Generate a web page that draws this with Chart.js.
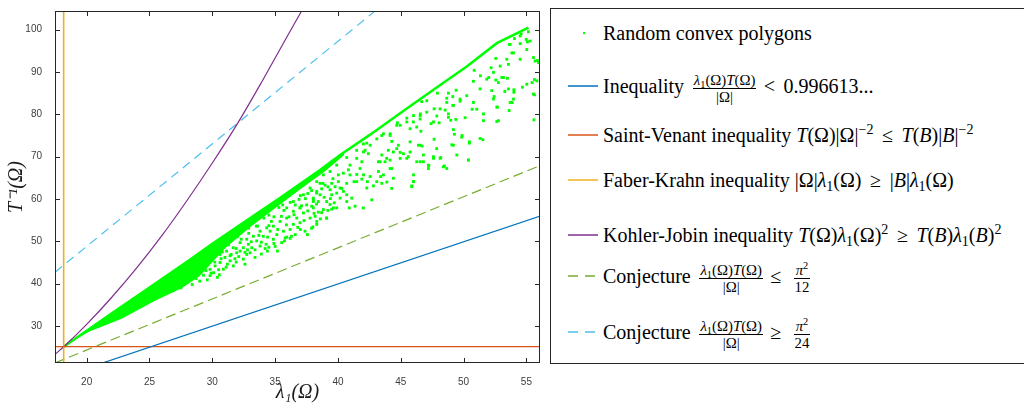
<!DOCTYPE html>
<html>
<head>
<meta charset="utf-8">
<script src="https://cdn.jsdelivr.net/npm/chart.js@4/dist/chart.umd.min.js"></script>
<style>
  body { margin: 0; background: #fff; }
  #wrap { position: relative; width: 1024px; height: 403px; overflow: hidden; }
  #legend { position: absolute; left: 550px; top: 8px; width: 480px; height: 354px;
            border: 1px solid #262626; border-right: none; background: #fff;
            font-family: 'Liberation Serif', serif; font-size: 20px; color: #000; }
  .item { position: absolute; left: 0; width: 100%; height: 0; }
  .key { position: absolute; left: 17px; top: -1px; width: 30px; height: 2px; opacity: 0.75; }
  .dot { position: absolute; left: 32px; top: -1px; width: 2px; height: 2px; background: #00ff00; }
  .lab { position: absolute; left: 52px; top: 0; transform: translateY(-50%); white-space: nowrap; line-height: 1; }
  .fr { display: inline-block; vertical-align: middle; text-align: center; font-size: 0.74em;
        line-height: 1.1; margin: -30px 0.25em; }
  .fr > span { display: block; padding: 0 1px; }
  .fr > .n { border-bottom: 1px solid #000; }
  .rel { margin: 0 0.18em; }
  sub, sup { font-size: 0.7em; line-height: 0; }
  sub { vertical-align: -0.25em; }
  sup { vertical-align: 0.55em; }
</style>
</head>
<body>
<div id="wrap">
  <canvas id="chart" width="1024" height="403"></canvas>
  <div id="legend">
    <div class="item" style="top:24px"><span class="dot"></span><span class="lab">Random convex polygons</span></div>
    <div class="item" style="top:77px"><span class="key" style="background:#0072bd"></span><span class="lab">Inequality <span class="fr"><span class="n"><i>λ</i><sub>1</sub>(Ω)<i>T</i>(Ω)</span><span class="d">|Ω|</span></span><span class="rel">&lt;</span> 0.996613...</span></div>
    <div class="item" style="top:126px"><span class="key" style="background:#d95319"></span><span class="lab">Saint-Venant inequality <i>T</i>(Ω)|Ω|<sup>−2</sup> <span class="rel">≤</span> <i>T</i>(<i>B</i>)|<i>B</i>|<sup>−2</sup></span></div>
    <div class="item" style="top:171px"><span class="key" style="background:#edb120"></span><span class="lab">Faber-Krahn inequality |Ω|<i>λ</i><sub>1</sub>(Ω) <span class="rel">≥</span> |<i>B</i>|<i>λ</i><sub>1</sub>(Ω)</span></div>
    <div class="item" style="top:226px"><span class="key" style="background:#7e2f8e"></span><span class="lab">Kohler-Jobin inequality <i>T</i>(Ω)<i>λ</i><sub>1</sub>(Ω)<sup>2</sup> <span class="rel">≥</span> <i>T</i>(<i>B</i>)<i>λ</i><sub>1</sub>(<i>B</i>)<sup>2</sup></span></div>
    <div class="item" style="top:267px"><span class="key" style="background:linear-gradient(to right,#77ac30 0 10px,transparent 10px 17px,#77ac30 17px 27px,transparent 27px)"></span><span class="lab">Conjecture <span class="fr"><span class="n"><i>λ</i><sub>1</sub>(Ω)<i>T</i>(Ω)</span><span class="d">|Ω|</span></span><span class="rel">≤</span> <span class="fr"><span class="n"><i>π</i><sup>2</sup></span><span class="d">12</span></span></span></div>
    <div class="item" style="top:323px"><span class="key" style="background:linear-gradient(to right,#4dbeee 0 10px,transparent 10px 17px,#4dbeee 17px 27px,transparent 27px)"></span><span class="lab">Conjecture <span class="fr"><span class="n"><i>λ</i><sub>1</sub>(Ω)<i>T</i>(Ω)</span><span class="d">|Ω|</span></span><span class="rel">≥</span> <span class="fr"><span class="n"><i>π</i><sup>2</sup></span><span class="d">24</span></span></span></div>
  </div>
</div>
<script>
// axes
const xTicks = [20, 25, 30, 35, 40, 45, 50, 55];
const yTicks = [30, 40, 50, 60, 70, 80, 90, 100];

// bound lines
const ineqX = [17.48, 56.1];       const ineqY = [17.5, 56.0];
const venantX = [17.48, 56.1];     const venantY = [25.13, 25.13];
const faberX = [18.17, 18.17];     const faberY = [20, 106];
const kohlerX = [17.48, 18.17, 20, 22, 24, 26, 28, 30, 32, 34, 36, 37.2];
const kohlerY = [23.3, 25.1, 30.4, 36.8, 43.8, 51.4, 59.7, 68.5, 77.8, 88.0, 98.6, 104.9];
const conjLoX = [17.48, 56.1];     const conjLoY = [21.3, 67.9];
const conjHiX = [17.48, 43.2];     const conjHiY = [42.7, 105];

// upper edge of the polygon cloud
const edgeX = [18.17, 22, 25, 28.24, 30, 33.4, 35.4, 38.57, 40.17, 42.56, 45.2, 47.6, 50.25, 52.64, 55.16];
const edgeY = [25.13, 33.0, 39.1, 45.7, 49.4, 56.3, 60.3, 66.85, 70.4, 75.2, 80.8, 85.8, 91.3, 96.8, 100.5];
// saturated part of the cloud (upper / lower boundary)
const denseTopX = [18.17, 22, 25, 28.24, 30, 33.4, 35.4, 38.57, 40.5];
const denseTopY = [25.13, 33.0, 39.1, 45.7, 49.4, 56.3, 60.3, 66.85, 71.1];
const denseBotX = [18.17, 20.13, 22.79, 25.44, 27.56, 29.0, 31, 33, 35, 37, 39, 40.5];
const denseBotY = [25.13, 28.6, 31.7, 36.0, 38.9, 41.8, 48.3, 53.3, 57.8, 62.3, 66.6, 70.4];

// scattered polygons below the edge
const cloud = [
  [37.38,52.4],[37.57,51.6],[36.19,50.7],[35.92,51.0],[35.74,50.1],[35.52,49.7],[35.18,47.7],[34.38,47.7],
  [34.28,49.3],[33.8,48.9],[33.4,46.2],[32.74,46.9],[32.47,45.8],[32.21,47.7],[31.67,44.2],[31.41,45.4],
  [30.88,43.4],[30.56,42.1],[29.82,41.9],[38.18,55.9],[37.78,55.5],[38.31,54.7],[38.04,57.9],[37.25,56.7],
  [36.72,55.5],[36.45,54.0],[36.98,54.4],[36.19,52.8],[35.66,52.4],[35.13,51.6],[34.86,50.5],[34.6,52.4],
  [34.06,51.2],[33.53,50.1],[33.14,48.5],[32.87,49.3],[32.47,48.5],[31.94,47.3],[31.41,46.6],[31.01,46.2],
  [30.61,45.0],[30.22,44.2],[29.82,43.4],[38.44,59.4],[38.04,60.2],[37.51,58.6],[36.98,57.9],[36.45,57.1],
  [35.92,55.5],[35.39,54.7],[34.86,53.6],[34.33,53.2],[33.8,52.4],[33.27,51.2],[32.74,50.5],[32.21,49.7],
  [31.67,48.5],[31.14,47.7],[30.61,46.9],[30.08,46.2],
  [28.5,44.8],[28.8,43.9],[29.1,45.9],[29.4,44.3],[30.3,47.9],[30.9,48.6],[31.6,50.8],[32.0,51.1],
  [32.4,52.5],[32.9,53.1],[33.2,54.4],[33.6,53.6],[34.1,55.5],[34.5,56.2],[34.9,55.8],[35.3,58.0],
  [35.7,57.3],[36.2,59.2],[36.6,58.6],[37.0,60.8],[37.4,60.1],[37.9,62.0],[38.3,61.4],[38.8,63.7],
  [39.2,62.9],[39.6,64.8],
  [27.6,39.6],[28.0,40.4],[28.4,39.8],[28.7,41.2],[29.0,40.6],[29.3,42.0],[29.6,40.9],[28.9,42.7],
  [29.5,43.1],[30.1,42.6],[30.4,41.5],[31.1,43.9],[31.9,45.1],[32.6,44.6],[33.0,47.3],[33.9,47.0],
  [34.5,48.6],[35.0,48.8],[36.6,51.6],[37.0,52.8],[38.0,53.4],[38.7,56.8],[39.1,55.5],[39.5,57.6],
  [26.2,38.6],[26.6,39.3],[26.9,38.4],[27.2,40.1],[27.5,39.0],[27.8,41.3],[26.4,40.0],[27.0,41.0],
  [28.2,42.4],[28.6,43.0],[28.3,41.0],[29.2,43.6],[29.7,44.9],[29.9,42.5],[28.1,43.7],[29.5,46.1],
  [30.2,45.1],[30.5,43.3],[30.8,47.5],[31.2,44.6],[31.5,46.9],[31.8,45.9],[31.3,49.2],[30.7,45.9],
  [31.9,48.3],[32.1,46.4],[32.3,50.5],[32.6,47.4],[32.9,51.9],[33.1,49.9],[33.4,48.0],[33.7,51.4],
  [33.9,49.8],[32.8,48.0],[33.5,53.6],[34.2,48.3],[34.4,51.0],[34.7,54.7],[34.9,49.5],[35.2,52.8],
  [35.5,55.9],[35.8,50.8],[35.9,53.9],[34.5,53.7],[35.6,58.6],[36.1,55.8],[36.3,51.2],[36.5,56.3],
  [36.8,53.3],[37.1,58.4],[37.3,54.9],[37.6,57.2],[37.9,53.1],[36.9,59.9],[37.6,61.3],[38.1,56.6],
  [38.3,58.8],[38.6,55.3],[38.9,60.4],[39.2,57.3],[39.4,60.1],[39.7,59.1],[39.9,61.4],[39.5,63.7],
  [38.7,62.4],
  [46.54,79.7],[46.0,78.2],[45.74,76.6],[46.27,77.0],[45.48,79.1],[44.95,77.4],[44.73,78.0],[44.15,75.4],
  [43.49,75.0],[44.28,73.6],[44.81,72.7],[45.74,73.5],[46.4,72.7],[44.41,71.1],[44.95,71.0],[44.01,71.5],
  [45.74,71.1],[46.54,68.8],[47.2,68.0],[45.6,70.0],[43.49,70.4],[43.22,68.8],[43.75,68.8],[44.15,69.2],
  [44.28,67.2],[43.22,66.5],[43.4,65.3],[43.49,63.7],[43.89,64.0],[44.28,62.5],[46.0,64.1],[45.88,63.1],
  [42.02,73.0],[42.16,71.5],[42.42,70.7],[41.9,68.8],[41.76,67.2],[42.56,65.3],[42.34,64.1],[42.82,63.1],
  [41.9,64.7],[41.5,65.8],[40.83,66.9],[40.96,65.7],[41.28,64.1],[40.43,66.1],[40.03,65.7],[40.03,64.1],
  [40.7,63.7],[39.77,62.9],[40.3,62.5],[39.37,62.2],[38.97,63.3],[38.57,63.7],[38.31,61.8],[39.5,61.0],
  [40.43,61.8],[41.1,60.2],[40.7,59.4],[40.17,60.2],[41.36,58.3],[42.02,57.9],[40.9,57.9],[39.9,57.9],
  [39.37,58.7],[38.84,57.5],[38.44,56.9],[38.04,59.8],[37.91,58.3],[39.1,55.5],[38.31,54.0],[42.69,59.8],
  [55.16,99.5],[54.58,99.0],[54.98,97.7],[55.08,97.1],[54.05,97.9],[54.5,96.7],[53.65,96.5],[53.84,94.5],
  [55.56,93.4],[55.88,92.7],[53.57,91.8],[52.56,93.2],[52.19,91.0],[51.34,89.1],[50.84,90.4],[50.78,87.8],
  [52.0,88.7],[52.56,88.1],[53.04,88.7],[53.49,88.5],[55.64,88.2],[55.45,87.5],[54.68,86.4],[54.0,85.8],
  [54.0,85.2],[53.28,85.4],[52.43,84.2],[55.64,84.6],[53.86,82.8],[52.69,81.7],[50.68,81.2],[51.05,81.2],
  [53.62,80.9],[50.12,79.2],[52.64,78.3],[55.6,78.7],[49.19,76.4],[49.88,75.0],[49.27,75.3],[50.46,73.2],
  [51.53,74.0],[49.06,72.8],[50.38,69.2],[48.18,69.8],[47.6,70.0],[47.65,74.1],[46.7,72.5],[48.79,79.3],
  [48.98,78.6],[48.79,80.1],[49.38,78.8],[48.05,78.0],[47.41,77.8],[48.53,81.0],[47.87,79.6],[47.65,81.3],
  [46.56,80.1],[46.6,76.0],[46.8,68.8],[47.23,67.9],[48.47,67.8],[49.14,84.2],[48.79,85.0],[49.4,85.7],
  [48.66,83.8],[49.14,82.1],[49.72,83.1],[47.92,85.0],[47.07,83.2],[46.67,83.0],
  [46.01,64.1],[45.87,62.9],[47.2,67.2],[48.39,67.6],[48.13,69.6],[49.85,74.6],[50.39,69.2],[50.46,73.5],
  [51.31,74.3],[51.58,80.1],[52.64,81.7],[52.77,78.5],[53.7,82.8],[53.97,83.6],[55.03,87.1],[55.56,84.8],
  [55.83,87.9],[55.69,92.6],[55.96,92.2],[55.29,97.3],[54.5,98.5],[53.7,96.5],[53.17,88.7],[53.57,86.0],
  [52.77,87.5],[52.24,85.6],[52.38,83.6],[51.58,78.5],
  [43.35,68.8],[43.88,69.6],[44.15,67.2],[44.68,71.9],[44.95,69.6],[45.21,70.7],[45.48,69.6],[46.27,68.8],
  [46.54,72.7],[46.8,70.4],[47.6,69.6],[47.86,71.9],[48.66,67.2],[49.19,72.7],[49.46,70.4],[46.01,65.7],
  [43.62,65.7],[44.41,64.9],[43.09,64.1],[42.29,62.6],[42.03,65.7],[41.49,64.1],[40.7,61.0],[40.17,62.6],
  [41.49,71.5],[42.29,73.2],[43.09,74.2],[43.62,75.4],[44.15,75.0],[44.68,77.4],[45.48,78.2],[46.01,79.7],
  [46.54,78.9],[47.07,80.5],[47.6,78.2],[48.13,81.3],[48.66,82.8],[49.19,82.1],[49.72,83.6],[50.25,84.4],
  [50.78,82.8],[51.31,86.0],[51.84,88.3],[52.38,89.9],[52.91,91.4],[53.44,93.0],[53.97,94.5],[54.5,93.0],
  [55.03,95.3],[41.49,69.6],[42.03,71.1],[42.56,72.7],[40.7,69.8],[40.96,68.0],[39.9,68.0],[39.37,66.5],
  [38.84,65.7],[38.31,64.1],[38.57,61.0],[37.78,62.6],[37.25,61.0],[36.45,59.4],[35.92,57.9],[36.98,57.9],
  [38.04,59.4],[39.1,59.4],[39.64,57.9]
];

function pts(xs, ys) {
    return xs.map((x, i) => ({x: x, y: ys[i]}));
}

function lineSet(xs, ys, color, dash, width) {
    return {
        data: pts(xs, ys),
        showLine: true,
        borderColor: color,
        borderWidth: width || 1.2,
        borderDash: dash || [],
        pointRadius: 0,
        fill: false,
        order: 0
    };
}

// inward ticks and box like the original figure
const frame = {
    id: 'frame',
    afterDraw(chart) {
        const ctx = chart.ctx;
        const a = chart.chartArea;
        const sx = chart.scales.x, sy = chart.scales.y;
        ctx.save();
        ctx.strokeStyle = '#262626';
        ctx.lineWidth = 1;
        ctx.strokeRect(Math.round(a.left) + 0.5, Math.round(a.top) + 0.5,
                       Math.round(a.right - a.left) - 1, Math.round(a.bottom - a.top) - 1);
        ctx.beginPath();
        sx.ticks.forEach(t => {
            const p = Math.round(sx.getPixelForValue(t.value)) + 0.5;
            ctx.moveTo(p, a.bottom); ctx.lineTo(p, a.bottom - 5);
            ctx.moveTo(p, a.top); ctx.lineTo(p, a.top + 5);
        });
        sy.ticks.forEach(t => {
            const p = Math.round(sy.getPixelForValue(t.value)) + 0.5;
            ctx.moveTo(a.left, p); ctx.lineTo(a.left + 5, p);
            ctx.moveTo(a.right, p); ctx.lineTo(a.right - 5, p);
        });
        ctx.stroke();
        ctx.restore();
    }
};

const tickFont = {family: 'Liberation Sans', size: 10};
const titleFont = {family: 'Liberation Serif', size: 20, style: 'italic', lineHeight: 1};

new Chart(document.getElementById('chart'), {
    type: 'scatter',
    data: {
        datasets: [
            lineSet(ineqX, ineqY, '#0072bd'),
            lineSet(venantX, venantY, '#d95319'),
            lineSet(faberX, faberY, '#edb120', null, 1.6),
            Object.assign(lineSet(kohlerX, kohlerY, '#7e2f8e'), {cubicInterpolationMode: 'monotone'}),
            lineSet(conjLoX, conjLoY, '#77ac30', [10, 5]),
            lineSet(conjHiX, conjHiY, '#4dbeee', [9, 6]),
            {
                data: pts(edgeX, edgeY), showLine: true, borderColor: '#00ff00',
                borderWidth: 2.5, pointRadius: 0, fill: false, order: 8
            },
            {
                data: pts(denseTopX, denseTopY), showLine: true, borderWidth: 0,
                borderColor: '#00ff00', backgroundColor: '#00ff00', pointRadius: 0,
                fill: '+1', order: 9
            },
            {
                data: pts(denseBotX, denseBotY), showLine: true, borderWidth: 0,
                borderColor: '#00ff00', pointRadius: 0, fill: false, order: 9
            },
            {
                data: cloud.map(p => ({x: p[0], y: p[1]})),
                pointStyle: 'rect', pointRadius: 2, borderWidth: 0,
                backgroundColor: '#00ff00', order: 10
            }
        ]
    },
    options: {
        responsive: false,
        animation: false,
        devicePixelRatio: 1,
        layout: {padding: {left: 0, top: 8, right: 484, bottom: 0}},
        plugins: {legend: {display: false}, tooltip: {enabled: false}},
        scales: {
            x: {
                type: 'linear', min: 17.48, max: 56.08,
                afterBuildTicks: s => { s.ticks = xTicks.map(v => ({value: v})); },
                afterFit: s => { s.height = 40; },
                grid: {display: false}, border: {display: false},
                ticks: {font: tickFont, color: '#404040', padding: 5, maxRotation: 0},
                title: {display: true, text: 'λ₁(Ω)', font: titleFont, color: '#1a1a1a', padding: {top: 0, bottom: 0}}
            },
            y: {
                type: 'linear', min: 21.27, max: 104.4,
                afterBuildTicks: s => { s.ticks = yTicks.map(v => ({value: v})); },
                afterFit: s => { s.width = 55; },
                grid: {display: false}, border: {display: false},
                ticks: {font: tickFont, color: '#404040', padding: 5},
                title: {display: true, text: 'T⁻¹(Ω)', font: titleFont, color: '#1a1a1a', padding: {top: 7, bottom: 0}}
            }
        }
    },
    plugins: [frame]
});
</script>
</body>
</html>
